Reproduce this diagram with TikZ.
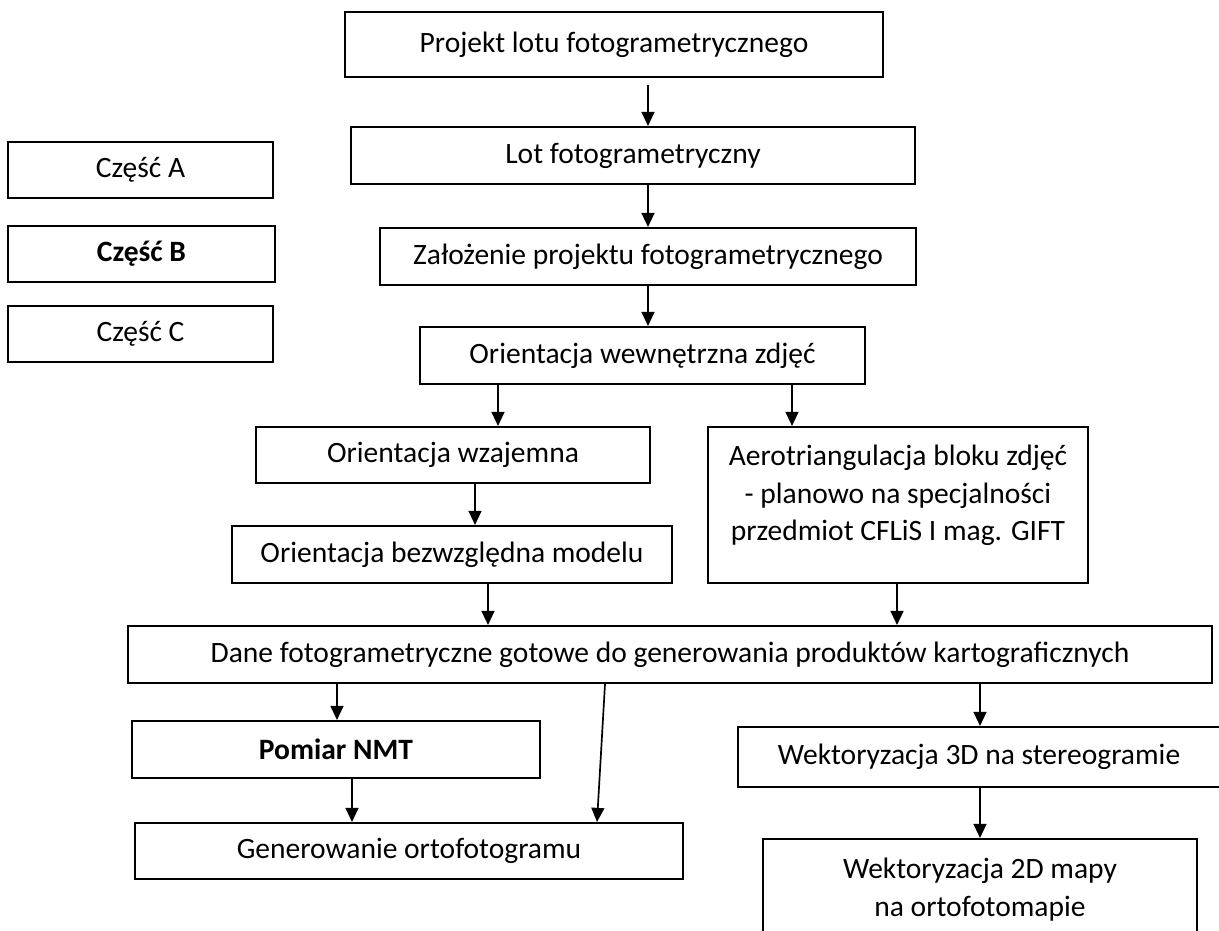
\documentclass[tikz,border=0pt]{standalone}
\usepackage{fontspec}
\setmainfont{Carlito}
\usetikzlibrary{
  arrows.meta
}

\begin{document}
\begin{tikzpicture}[
      x=0.0125cm, y=-0.0125cm,
      box/.style={
         rectangle,
         draw=black,
         line width=0.75pt,
         inner sep=0pt,
         align=center,
         font=\fontsize{10.5}{13.4}\selectfont
      },
      tip/.style={->, line width=0.6pt},
      >={Triangle[length=5pt,width=4.6pt]}
    ]
  \useasboundingbox (0,0) rectangle (1219,930);
  % legend
  \node (partA) [box, minimum width=3.3125cm, minimum height=0.7cm] at (140.5,170) {Część A};
  \node (partB) [box, minimum width=3.3375cm, minimum height=0.7cm] at (141.5,254) {\textbf{Część B}};
  \node (partC) [box, minimum width=3.3125cm, minimum height=0.7cm] at (140.5,334) {Część C};
  % main flow
  \node (projekt) [box, minimum width=6.725cm, minimum height=0.8125cm] at (614,44.5) {Projekt lotu fotogrametrycznego};
  \node (lot) [box, minimum width=7.05cm, minimum height=0.7125cm] at (633,155.5) {Lot fotogrametryczny};
  \node (zalozenie) [box, minimum width=6.7cm, minimum height=0.7125cm] at (648,256.5) {Założenie projektu fotogrametrycznego};
  \node (wewn) [box, minimum width=5.5625cm, minimum height=0.7125cm] at (642.5,355.5) {Orientacja wewnętrzna zdjęć};
  \node (wzajemna) [box, minimum width=4.925cm, minimum height=0.7cm] at (453,455) {Orientacja wzajemna};
  \node (aero) [box, minimum width=4.75cm, minimum height=1.95cm] at (898,505)
     {Aerotriangulacja bloku zdjęć\\- planowo na specjalności\\przedmiot CFLiS I mag. GIFT\rule[-0.3cm]{0pt}{0.3cm}};
  \node (bezwzgl) [box, minimum width=5.5cm, minimum height=0.7125cm] at (452,554.5) {Orientacja bezwzględna modelu};
  \node (dane) [box, minimum width=13.55cm, minimum height=0.7125cm] at (670,654.5) {Dane fotogrametryczne gotowe do generowania produktów kartograficznych};
  \node (pomiar) [box, minimum width=5.1cm, minimum height=0.7125cm] at (336,749.5) {\textbf{Pomiar NMT}};
  \node (generowanie) [box, minimum width=6.85cm, minimum height=0.7cm] at (409,851) {Generowanie ortofotogramu};
  \node (wekt3d) [box, minimum width=6.025cm, minimum height=0.75cm] at (979,757) {Wektoryzacja 3D na stereogramie};
  \node (wekt2d) [box, minimum width=5.425cm, minimum height=1.2625cm] at (980,889.5) {Wektoryzacja 2D mapy\\na ortofotomapie};
  % connectors
  \draw[tip, shorten <=0.09cm] (projekt.south -| 648,0) -- (lot.north -| 648,0);
  \draw[tip] (lot.south -| 648,0) -- (zalozenie.north -| 648,0);
  \draw[tip] (zalozenie.south -| 648,0) -- (wewn.north -| 648,0);
  \draw[tip] (wewn.south -| 498,0) -- (wzajemna.north -| 498,0);
  \draw[tip] (wewn.south -| 792,0) -- (aero.north -| 792,0);
  \draw[tip] (wzajemna.south -| 475,0) -- (bezwzgl.north -| 475,0);
  \draw[tip] (bezwzgl.south -| 488,0) -- (dane.north -| 488,0);
  \draw[tip] (aero.south -| 897,0) -- (dane.north -| 897,0);
  \draw[tip] (dane.south -| 337,0) -- (pomiar.north -| 337,0);
  \draw[tip] (dane.south -| 605,0) -- (generowanie.north -| 597,0);
  \draw[tip] (dane.south -| 980,0) -- (wekt3d.north -| 980,0);
  \draw[tip] (pomiar.south -| 352,0) -- (generowanie.north -| 352,0);
  \draw[tip] (wekt3d.south -| 980,0) -- (wekt2d.north -| 980,0);
\end{tikzpicture}
\end{document}
